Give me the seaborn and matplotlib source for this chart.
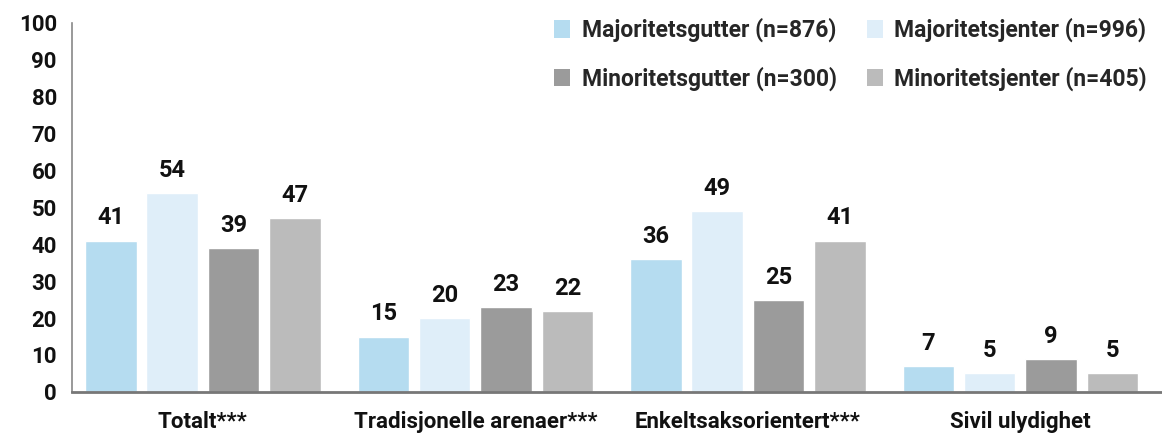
import pandas as pd
import seaborn as sns
import matplotlib.pyplot as plt
from matplotlib.patches import Patch

categories = ['Totalt***', 'Tradisjonelle arenaer***', 'Enkeltsaksorientert***', 'Sivil ulydighet']
groups = ['Majoritetsgutter (n=876)', 'Majoritetsjenter (n=996)',
          'Minoritetsgutter (n=300)', 'Minoritetsjenter (n=405)']
maj_gutter = [41, 15, 36, 7]
maj_jenter = [54, 20, 49, 5]
min_gutter = [39, 23, 25, 9]
min_jenter = [47, 22, 41, 5]
colors = ['#b5dcf0', '#dfeef9', '#9b9b9b', '#bbbbbb']


def plot_data():
    rows = []
    for g, vals in zip(groups, [maj_gutter, maj_jenter, min_gutter, min_jenter]):
        for c, v in zip(categories, vals):
            rows.append({'Kategori': c, 'Gruppe': g, 'Andel': v})
    df = pd.DataFrame(rows)

    sns.set_style('white')
    plt.rcParams['font.family'] = ['Roboto', 'DejaVu Sans']
    plt.rcParams['font.weight'] = 'bold'

    fig, ax = plt.subplots(figsize=(11.62, 4.33), dpi=100)
    fig.subplots_adjust(left=0.062, right=1.0, top=0.947, bottom=0.095)

    sns.barplot(data=df, x='Kategori', y='Andel', hue='Gruppe', palette=colors,
                width=0.9, gap=0.16, ax=ax, legend=False, saturation=1)

    for cont in ax.containers:
        ax.bar_label(cont, padding=8, fontsize=17, fontweight='bold', color='#111111')

    ax.set_ylim(0, 100)
    ax.set_xlim(-0.48, 3.52)
    ax.set_yticks(range(0, 101, 10))
    ax.set_xlabel('')
    ax.set_ylabel('')
    ax.tick_params(axis='y', labelsize=16, length=6, color='#888888', width=1,
                   direction='out', pad=5)
    ax.tick_params(axis='x', labelsize=16, length=0, pad=14)
    for lab in ax.get_xticklabels() + ax.get_yticklabels():
        lab.set_fontweight('bold')
        lab.set_color('#111111')

    sns.despine(ax=ax, top=True, right=True)
    ax.spines['left'].set_color('#888888')
    ax.spines['bottom'].set_color('#777777')
    ax.spines['left'].set_linewidth(1.2)
    ax.spines['bottom'].set_linewidth(2)

    # legend filled row by row like the original
    order = [0, 2, 1, 3]
    handles = [Patch(facecolor=colors[i], edgecolor='none') for i in order]
    labels = [groups[i] for i in order]
    ax.legend(handles, labels, ncol=2, loc='upper right', bbox_to_anchor=(1.005, 1.07),
              frameon=False, prop={'weight': 'bold', 'size': 16.5},
              handlelength=0.7, handleheight=0.8, handletextpad=0.5,
              columnspacing=1.3, labelspacing=1.05)

    plt.savefig('out.png', dpi=100)
    plt.close()


if __name__ == "__main__":
    plot_data()
